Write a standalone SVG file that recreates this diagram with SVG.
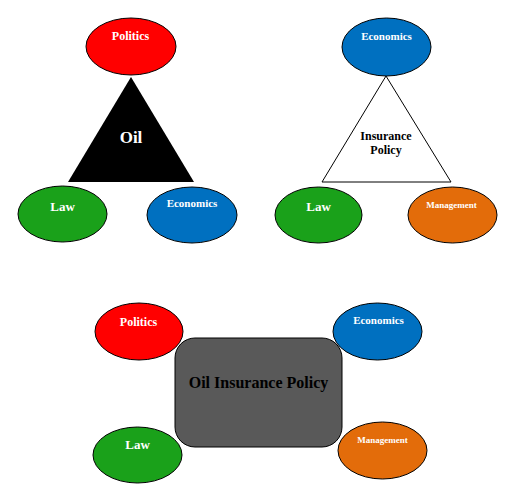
<svg xmlns="http://www.w3.org/2000/svg" width="517" height="499" viewBox="0 0 517 499">
<style>
.e{stroke:#000;stroke-width:1}
.red{fill:#FF0000}.grn{fill:#1AA11A}.blu{fill:#0070C0}.org{fill:#E36C0A}
text{font-family:"Liberation Serif","Times New Roman",serif;font-weight:bold;text-anchor:middle}
.w{fill:#fff}.k{fill:#000}
</style>
<rect width="517" height="499" fill="#fff"/>
<g id="connectors"></g>
<g id="oil-triangle"><polygon points="131,77 194,182 68,182" fill="#000"/><text class="w" x="131" y="143" font-size="17">Oil</text></g>
<g id="tl-politics"><ellipse class="e red" cx="131" cy="46.5" rx="45" ry="28.5"/><text class="w" x="130.5" y="40" font-size="12">Politics</text></g>
<g id="tl-law"><ellipse class="e grn" cx="62.5" cy="214" rx="44.5" ry="28"/><text class="w" x="62.5" y="211" font-size="13">Law</text></g>
<g id="tl-economics"><ellipse class="e blu" cx="192" cy="215" rx="45" ry="28"/><text class="w" x="192" y="207" font-size="11">Economics</text></g>
<g id="ins-triangle"><polygon points="386,76 451,182 322,182" fill="#fff" stroke="#000" stroke-width="1"/><text class="k" x="386" y="140" font-size="12">Insurance</text><text class="k" x="386" y="154" font-size="12">Policy</text></g>
<g id="tr-economics"><ellipse class="e blu" cx="386.5" cy="47" rx="44.5" ry="29"/><text class="w" x="386.5" y="40" font-size="11">Economics</text></g>
<g id="tr-law"><ellipse class="e grn" cx="318.5" cy="215" rx="43.5" ry="28"/><text class="w" x="318.5" y="211" font-size="13">Law</text></g>
<g id="tr-management"><ellipse class="e org" cx="452.5" cy="215" rx="44.5" ry="28"/><text class="w" x="451.5" y="208" font-size="9">Management</text></g>
<g id="oil-insurance-policy"><rect x="175" y="338" width="167" height="109" rx="20" ry="20" fill="#595959" stroke="#000" stroke-width="1"/><text class="k" x="258.5" y="388" font-size="16">Oil Insurance Policy</text></g>
<g id="b-politics"><ellipse class="e red" cx="139" cy="331.5" rx="44" ry="28.5"/><text class="w" x="138.5" y="326" font-size="12">Politics</text></g>
<g id="b-economics"><ellipse class="e blu" cx="377.5" cy="331.5" rx="44.5" ry="28.5"/><text class="w" x="378.5" y="324" font-size="11">Economics</text></g>
<g id="b-law"><ellipse class="e grn" cx="137.5" cy="455" rx="44.5" ry="28"/><text class="w" x="137.5" y="449" font-size="13">Law</text></g>
<g id="b-management"><ellipse class="e org" cx="382.5" cy="450.5" rx="44.5" ry="28.5"/><text class="w" x="382.5" y="443" font-size="9">Management</text></g>
</svg>
